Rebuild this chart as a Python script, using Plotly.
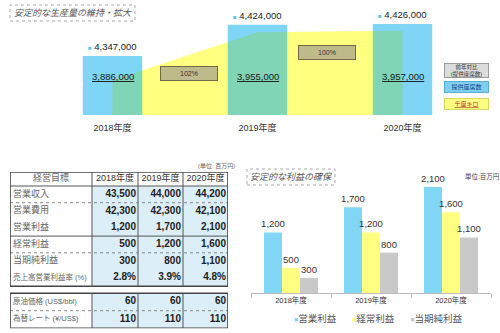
import itertools
import plotly.graph_objects as go

# ---- production volume (top panel) ----
years = ["2018年度", "2019年度", "2020年度"]
seats = [4347000, 4424000, 4426000]        # 提供座席数
seat_km = [3886000, 3955000, 3957000]      # 千座キロ
yoy_labels = ["102%", "100%"]              # 前年対比 (提供座席数)

# ---- profit (bottom-right panel) ----
profit_names = ["営業利益", "経常利益", "当期純利益"]
op_profit = [1200, 1700, 2100]
ord_profit = [500, 1200, 1600]
net_profit = [300, 800, 1100]

# ---- management targets table (bottom-left) ----
table_head = ["経営目標"] + years
row_labels = ["営業収入", "営業費用", "営業利益", "経常利益", "当期純利益", "売上高営業利益率 (%)"]
revenue = [43500, 44000, 44200]
expense = [42300, 42300, 42100]
margin = [2.8, 3.9, 4.8]
assump_labels = ["原油価格 (US$/bbl)", "為替レート (¥/US$)"]
oil_price = [60, 60, 60]
fx_rate = [110, 110, 110]

FONT = "Liberation Sans, Noto Sans CJK JP, sans-serif"
BLUE = "#80d6f4"
YELLOW = "#ffff80"
GRAY = "#c9c9c9"
CELL = "#dceef7"
W, H = 500, 333

fig = go.Figure()

# seat-km area (drawn under the translucent seat bars)
fig.add_trace(go.Scatter(
    x=years, y=seat_km, mode="lines", line=dict(width=0),
    fill="tozeroy", fillcolor=YELLOW, hoverinfo="skip",
    xaxis="x", yaxis="y", showlegend=False))
fig.add_trace(go.Bar(
    x=years, y=seats, width=0.41,
    marker=dict(color="rgba(0,172,235,0.5)", line=dict(width=0)),
    xaxis="x", yaxis="y2", showlegend=False))

# profit bars
for name, vals, col in zip(profit_names, [op_profit, ord_profit, net_profit], [BLUE, YELLOW, GRAY]):
    fig.add_trace(go.Bar(
        x=years, y=vals, name=name, marker=dict(color=col, line=dict(width=0)),
        text=[f"{v:,}" for v in vals], textposition="outside", constraintext="none",
        textfont=dict(size=9.5, color="#333"), cliponaxis=False,
        xaxis="x2", yaxis="y3", showlegend=False))

# ---- targets table: heatmap cells + text + rule lines on their own axes ----
col_w = [82, 46, 45, 45]
row_h = [14] + [16.7] * 6 + [7] + [17.5] * 2      # header, 6 rows, spacer, 2 rows
x_edges = [0] + list(itertools.accumulate(col_w))
y_edges = [0] + list(itertools.accumulate(row_h))
x_mid = [(a + b) / 2 for a, b in zip(x_edges[:-1], x_edges[1:])]
y_mid = [(a + b) / 2 for a, b in zip(y_edges[:-1], y_edges[1:])]
body_rows = list(range(1, 7))
assump_rows = [8, 9]

z = []
for r in range(len(row_h)):
    if r == 0:
        z.append([0, 0, 0, 0])
    elif r == 7:
        z.append([None] * 4)
    else:
        z.append([0, 1, 1, 1])
fig.add_trace(go.Heatmap(
    x=x_edges, y=y_edges, z=z, zmin=0, zmax=1,
    colorscale=[[0, "white"], [1, CELL]], showscale=False, hoverinfo="skip",
    xaxis="x3", yaxis="y4"))


def segs(pairs):
    xs, ys = [], []
    for (x0, y0), (x1, y1) in pairs:
        xs += [x0, x1, None]
        ys += [y0, y1, None]
    return xs, ys


# rule lines
t1_top, t1_bot = y_edges[0], y_edges[7]
t2_top, t2_bot = y_edges[8], y_edges[10]
solid = []
for xe in x_edges[1:-1]:
    solid += [((xe, t1_top), (xe, t1_bot)), ((xe, t2_top), (xe, t2_bot))]
solid += [((0, y_edges[1]), (x_edges[-1], y_edges[1])),
          ((0, y_edges[4]), (x_edges[-1], y_edges[4]))]
xs, ys = segs(solid)
fig.add_trace(go.Scatter(x=xs, y=ys, mode="lines", line=dict(color="#555", width=1),
                         hoverinfo="skip", showlegend=False, xaxis="x3", yaxis="y4"))
dots = [((0, y_edges[i]), (x_edges[-1], y_edges[i])) for i in (2, 5, 9)]
xs, ys = segs(dots)
fig.add_trace(go.Scatter(x=xs, y=ys, mode="lines", line=dict(color="#888", width=1, dash="dot"),
                         hoverinfo="skip", showlegend=False, xaxis="x3", yaxis="y4"))
frame = []
for top, bot in ((t1_top, t1_bot), (t2_top, t2_bot)):
    frame += [((0, top), (x_edges[-1], top)), ((x_edges[-1], top), (x_edges[-1], bot)),
              ((x_edges[-1], bot), (0, bot)), ((0, bot), (0, top))]
xs, ys = segs(frame)
fig.add_trace(go.Scatter(x=xs, y=ys, mode="lines", line=dict(color="#444", width=1.6),
                         hoverinfo="skip", showlegend=False, xaxis="x3", yaxis="y4"))

# header text
fig.add_trace(go.Scatter(
    x=x_mid, y=[y_mid[0]] * 4, mode="text", text=table_head,
    textfont=dict(family=FONT, size=9, color=["#666", "#333", "#333", "#333"]),
    hoverinfo="skip", showlegend=False, cliponaxis=False, xaxis="x3", yaxis="y4"))
# row labels
all_labels = row_labels + assump_labels
label_y = [y_mid[r] for r in body_rows + assump_rows]
fig.add_trace(go.Scatter(
    x=[3] * len(all_labels), y=label_y, mode="text", text=all_labels,
    textposition="middle right",
    textfont=dict(family=FONT, size=[9, 9, 9, 9, 9, 7.5, 7.5, 7.5], color="#666"),
    hoverinfo="skip", showlegend=False, cliponaxis=False, xaxis="x3", yaxis="y4"))
# figures
for i in range(3):
    col_vals = [f"{revenue[i]:,}", f"{expense[i]:,}", f"{op_profit[i]:,}", f"{ord_profit[i]:,}",
                f"{net_profit[i]:,}", f"{margin[i]}%", f"{oil_price[i]:,}", f"{fx_rate[i]:,}"]
    fig.add_trace(go.Scatter(
        x=[x_edges[i + 2] - 2] * len(col_vals), y=label_y, mode="text",
        text=[f"<b>{v}</b>" for v in col_vals], textposition="middle left",
        textfont=dict(family=FONT, size=10, color="#222"),
        hoverinfo="skip", showlegend=False, cliponaxis=False, xaxis="x3", yaxis="y4"))

ann = []
# seat count labels above bars
for yr, v in zip(years, seats):
    ann.append(dict(x=yr, y=v, xref="x", yref="y2", yanchor="bottom", yshift=2, showarrow=False,
                    text=f"<span style='font-size:6px;color:#5ec4ea'>■</span> {v:,}",
                    font=dict(size=9.5, color="#222")))
# seat-km labels inside
for yr, v in zip(years, seat_km):
    ann.append(dict(x=yr, y=0.3, xref="x", yref="y domain", showarrow=False,
                    text=f"<u>{v:,}</u>", font=dict(size=9.5, color="#1a1a1a")))
# year-on-year badges between years
for xpos, ypos, t in zip([0.53, 1.48], [0.4, 0.6], yoy_labels):
    ann.append(dict(x=xpos, y=ypos, xref="x", yref="y domain", showarrow=False, text=t,
                    width=54, height=11, bgcolor="#bfba8a", bordercolor="#6f6b48",
                    borderwidth=1, borderpad=1, font=dict(size=7, color="#333")))


def paper_note(px, py, text, **kw):
    d = dict(x=px / W, y=1 - py / H, xref="paper", yref="paper", xanchor="center",
             yanchor="middle", showarrow=False, text=text)
    d.update(kw)
    ann.append(d)


# key boxes on the right
paper_note(466.5, 70.5, "前年対比<br>(提供座席数)", width=43, height=13, bgcolor="#dcdcdc",
           bordercolor="#9a9a9a", borderwidth=1, borderpad=0, font=dict(size=5.5, color="#333"))
paper_note(466.5, 87, "提供座席数", width=43, height=10, bgcolor="#7fd0f0",
           bordercolor="#5aaed0", borderwidth=1, borderpad=0, font=dict(size=6, color="#1f3f8f"))
paper_note(466.5, 104, "<u>千座キロ</u>", width=43, height=10, bgcolor="#ffff80",
           bordercolor="#d8d860", borderwidth=1, borderpad=0, font=dict(size=6, color="#b03020"))
# panel titles
paper_note(72.5, 13, "<i>安定的な生産量の維持・拡大</i>", font=dict(size=9, color="#555"))
paper_note(291, 177, "<i>安定的な利益の確保</i>", font=dict(size=9, color="#555"))
# units
paper_note(216, 166, "(単位: 百万円)", font=dict(size=6, color="#666"))
paper_note(482, 176, "単位:百万円", font=dict(size=6.5, color="#444"))
# profit legend
sw = "<span style='font-size:7px;color:{c}'>■</span>"
gap = "&nbsp;" * 6
leg = gap.join(sw.format(c=c) + n for c, n in zip([BLUE, YELLOW, GRAY], profit_names))
paper_note(378, 318, leg, font=dict(size=9.5, color="#555"))

shapes = [
    dict(type="rect", xref="paper", yref="paper", x0=10 / W, x1=135 / W, y0=1 - 21 / H, y1=1 - 5 / H,
         line=dict(color="#aaa", width=1, dash="dot")),
    dict(type="rect", xref="paper", yref="paper", x0=247 / W, x1=335 / W, y0=1 - 185 / H, y1=1 - 169 / H,
         line=dict(color="#aaa", width=1, dash="dot")),
]

hidden = dict(visible=False, showgrid=False, zeroline=False)
fig.update_layout(
    width=W, height=H, margin=dict(l=0, r=0, t=0, b=0),
    paper_bgcolor="white", plot_bgcolor="rgba(0,0,0,0)",
    font=dict(family=FONT, size=9, color="#333"),
    barmode="group", bargap=0.325, bargroupgap=0, showlegend=False,
    xaxis=dict(domain=[40 / W, 475 / W], anchor="y", range=[-0.5, 2.5], showline=False,
               showgrid=False, zeroline=False, ticks="", ticklabelstandoff=6,
               tickfont=dict(size=9, color="#333")),
    yaxis=dict(domain=[1 - 115 / H, 1 - 10 / H], anchor="x", range=[3836000, 3987000], **hidden),
    yaxis2=dict(overlaying="y", anchor="x", range=[4200440, 4460800], **hidden),
    xaxis2=dict(domain=[251 / W, 491 / W], anchor="y3", range=[-0.5, 2.5], showline=True,
                linecolor="#bbb", ticks="outside", tickson="boundaries", ticklen=4,
                tickcolor="#bbb", showgrid=False, zeroline=False,
                tickfont=dict(size=7.5, color="#333")),
    yaxis3=dict(domain=[1 - 293 / H, 1 - 170 / H], anchor="x2", range=[0, 2437], **hidden),
    xaxis3=dict(domain=[10 / W, (10 + x_edges[-1]) / W], anchor="y4",
                range=[0, x_edges[-1]], **hidden),
    yaxis4=dict(domain=[1 - (172 + y_edges[-1]) / H, 1 - 172 / H], anchor="x3",
                range=[y_edges[-1], 0], **hidden),
    annotations=ann, shapes=shapes,
)

fig.write_html("out.html")
